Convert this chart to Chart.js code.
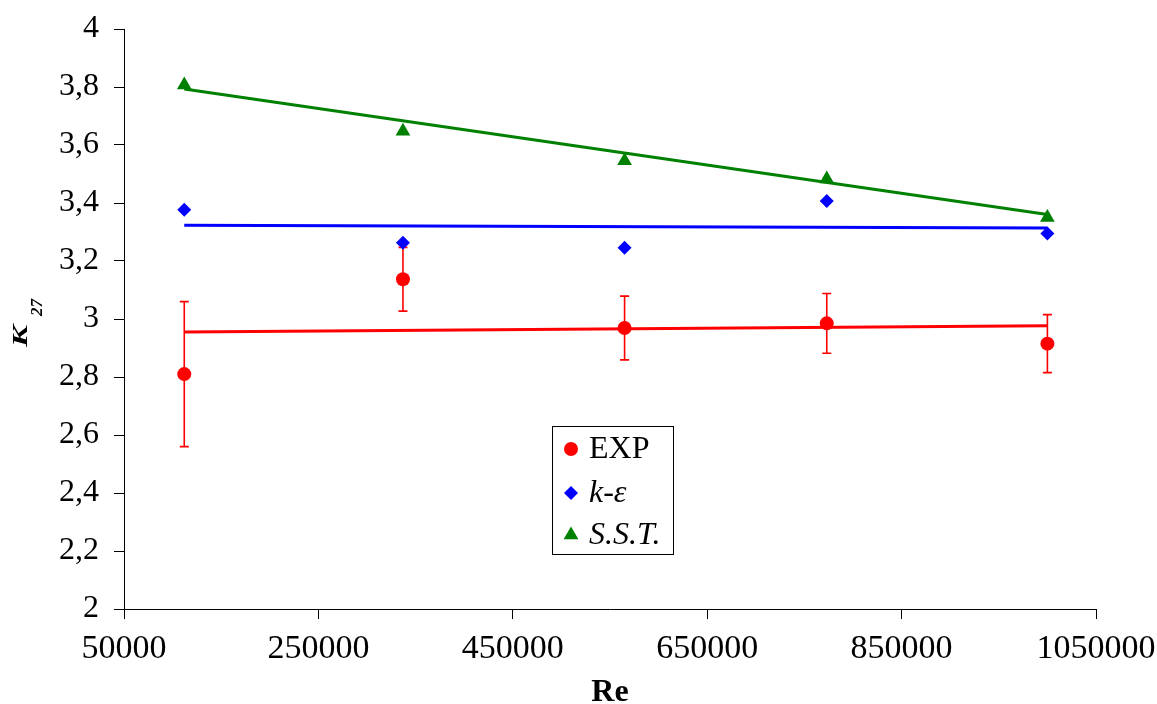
<!DOCTYPE html>
<html>
<head>
<meta charset="utf-8">
<title>K27 vs Re</title>
<script src="https://cdn.jsdelivr.net/npm/chart.js@4.4.1/dist/chart.umd.min.js"></script>
<style>
	body { margin: 0; background: #fff; }
	#wrap { width: 1157px; height: 704px; position: relative; }
</style>
</head>
<body>
<div id="wrap"><canvas id="k27_chart"></canvas></div>
<script>
'use strict';

// Reynolds numbers of the runs
var re = [112000, 337000, 565000, 773000, 1000000];

// measured values and their error
var exp = [2.81, 3.137, 2.969, 2.985, 2.915];
var expErr = [0.25, 0.11, 0.11, 0.103, 0.1];

// computed values
var kEps = [3.377, 3.263, 3.246, 3.407, 3.295];
var sst = [3.807, 3.647, 3.546, 3.483, 3.35];

// linear trend lines, read at the first and last Re
var trendRe = [112000, 1000000];
var expTrend = [2.955, 2.977];
var kEpsTrend = [3.323, 3.314];
var sstTrend = [3.793, 3.36];

// axis tick labels
var xTickLabels = ["50000", "250000", "450000", "650000", "850000", "1050000"];
var yTickLabels = ["2", "2,2", "2,4", "2,6", "2,8", "3", "3,2", "3,4", "3,6", "3,8", "4"];

var legendNames = ["EXP", "k-\u03b5", "S.S.T."];

(function(){

	var FONT = "'Liberation Serif', 'Times New Roman', serif";
	var RED = "#ff0000", BLUE = "#0000ff", GREEN = "#008000";

	var toPoints = function(xs, ys){
		return xs.map(function(x, i){ return {x: x, y: ys[i]}; });
	};

	// error bars on the EXP points, drawn before the markers
	var errorBars = {
		id: 'errorBars',
		beforeDatasetsDraw: function(chart){
			var ctx = chart.ctx, xs = chart.scales.x, ys = chart.scales.y;
			ctx.save();
			ctx.strokeStyle = RED;
			ctx.lineWidth = 1.6;
			for (var i = 0; i < re.length; i++) {
				var px = xs.getPixelForValue(re[i]);
				var top = ys.getPixelForValue(exp[i] + expErr[i]);
				var bot = ys.getPixelForValue(exp[i] - expErr[i]);
				ctx.beginPath();
				ctx.moveTo(px, top); ctx.lineTo(px, bot);
				ctx.moveTo(px - 4.5, top); ctx.lineTo(px + 4.5, top);
				ctx.moveTo(px - 4.5, bot); ctx.lineTo(px + 4.5, bot);
				ctx.stroke();
			}
			ctx.restore();
		}
	};

	var drawMarker = function(ctx, kind, x, y, color){
		ctx.fillStyle = color;
		ctx.beginPath();
		if (kind === 'circle') {
			ctx.arc(x, y, 7, 0, Math.PI * 2);
		} else if (kind === 'diamond') {
			ctx.moveTo(x, y - 7); ctx.lineTo(x + 7, y); ctx.lineTo(x, y + 7); ctx.lineTo(x - 7, y);
		} else {
			ctx.moveTo(x, y - 8.5); ctx.lineTo(x + 7.4, y + 4.3); ctx.lineTo(x - 7.4, y + 4.3);
		}
		ctx.closePath();
		ctx.fill();
	};

	// axis titles and the boxed legend
	var extras = {
		id: 'extras',
		afterDraw: function(chart){
			var ctx = chart.ctx, ca = chart.chartArea;
			ctx.save();
			ctx.fillStyle = '#000';

			// x title
			ctx.font = "bold 32px " + FONT;
			ctx.textAlign = 'center';
			ctx.textBaseline = 'alphabetic';
			ctx.fillText("Re", (ca.left + ca.right) / 2, 701);

			// y title K with subscript 27 (the K is drawn wide, like the original)
			ctx.save();
			ctx.translate(0, (ca.top + ca.bottom) / 2);
			ctx.rotate(-Math.PI / 2);
			ctx.textAlign = 'left';
			ctx.font = "bold italic 22px " + FONT;
			ctx.save();
			ctx.translate(-28, 27);
			ctx.scale(1.5, 1);
			ctx.fillText("K", 0, 0);
			ctx.restore();
			ctx.font = "bold italic 17px " + FONT;
			ctx.fillText("27", 3, 42);
			ctx.restore();

			// legend box
			var bx = ca.left + 428, by = ca.top + 397, bw = 121, bh = 128;
			ctx.fillStyle = '#fff';
			ctx.fillRect(bx, by, bw, bh);
			ctx.strokeStyle = '#000';
			ctx.lineWidth = 1;
			ctx.strokeRect(bx + 0.5, by + 0.5, bw, bh);

			var rows = [by + 23, by + 67, by + 109];
			drawMarker(ctx, 'circle', bx + 19, rows[0], RED);
			drawMarker(ctx, 'diamond', bx + 19, rows[1], BLUE);
			drawMarker(ctx, 'triangle', bx + 19, rows[2], GREEN);

			ctx.fillStyle = '#000';
			ctx.textAlign = 'left';
			ctx.textBaseline = 'middle';
			var tx = bx + 37;
			ctx.font = "32px " + FONT;
			ctx.fillText(legendNames[0], tx, rows[0] + 1);
			// k-eps: italic k and epsilon, plain hyphen
			var parts = legendNames[1].split("-");
			ctx.font = "italic 32px " + FONT;
			ctx.fillText(parts[0], tx, rows[1] + 1);
			var w = ctx.measureText(parts[0]).width;
			ctx.font = "32px " + FONT;
			ctx.fillText("-", tx + w, rows[1] + 1);
			w += ctx.measureText("-").width;
			ctx.font = "italic 32px " + FONT;
			ctx.fillText(parts[1], tx + w, rows[1] + 1);
			ctx.fillText(legendNames[2], tx, rows[2] + 1);
			ctx.restore();
		}
	};

	var axisStyle = {
		grid: { display: true, drawOnChartArea: false, drawTicks: true, tickLength: 10, color: '#000', lineWidth: 1 },
		border: { display: true, color: '#000', width: 1 }
	};

	var ctx = document.getElementById('k27_chart').getContext('2d');
	new Chart(ctx, {
		type: 'scatter',
		data: {
			datasets: [
				{ label: legendNames[0], data: toPoints(re, exp), backgroundColor: RED, borderColor: RED,
				  pointStyle: 'circle', pointRadius: 7, pointBorderWidth: 0, order: 1 },
				{ label: legendNames[1], data: toPoints(re, kEps), backgroundColor: BLUE, borderColor: BLUE,
				  pointStyle: 'rectRot', pointRadius: 7, pointBorderWidth: 0, order: 1 },
				{ label: legendNames[2], data: toPoints(re, sst), backgroundColor: GREEN, borderColor: GREEN,
				  pointStyle: 'triangle', pointRadius: 8.5, pointBorderWidth: 0, order: 1 },
				{ data: toPoints(trendRe, expTrend), showLine: true, borderColor: RED, borderWidth: 3, pointRadius: 0, order: 2 },
				{ data: toPoints(trendRe, kEpsTrend), showLine: true, borderColor: BLUE, borderWidth: 3, pointRadius: 0, order: 2 },
				{ data: toPoints(trendRe, sstTrend), showLine: true, borderColor: GREEN, borderWidth: 3, pointRadius: 0, order: 2 }
			]
		},
		options: {
			responsive: true,
			maintainAspectRatio: false,
			animation: false,
			layout: { padding: { top: 29, right: 61, left: 0, bottom: 0 } },
			plugins: { legend: { display: false }, tooltip: { enabled: false } },
			scales: {
				x: Object.assign({
					type: 'linear', min: 50000, max: 1050000,
					ticks: { stepSize: 200000, color: '#000', padding: 10, maxRotation: 0,
						font: { family: FONT, size: 34 },
						callback: function(v, i){ return xTickLabels[i]; } },
					// fixed size so the plot box sits where the original has it
					afterFit: function(s){ s.height = 95; s.paddingLeft = 0; s.paddingRight = 0; }
				}, axisStyle),
				y: Object.assign({
					type: 'linear', min: 2, max: 4,
					ticks: { stepSize: 0.2, color: '#000', padding: 15,
						font: { family: FONT, size: 32 },
						callback: function(v, i){ return yTickLabels[i]; } },
					afterFit: function(s){ s.width = 124; s.paddingTop = 0; s.paddingBottom = 0; }
				}, axisStyle)
			}
		},
		plugins: [errorBars, extras]
	});

})();
</script>
</body>
</html>
